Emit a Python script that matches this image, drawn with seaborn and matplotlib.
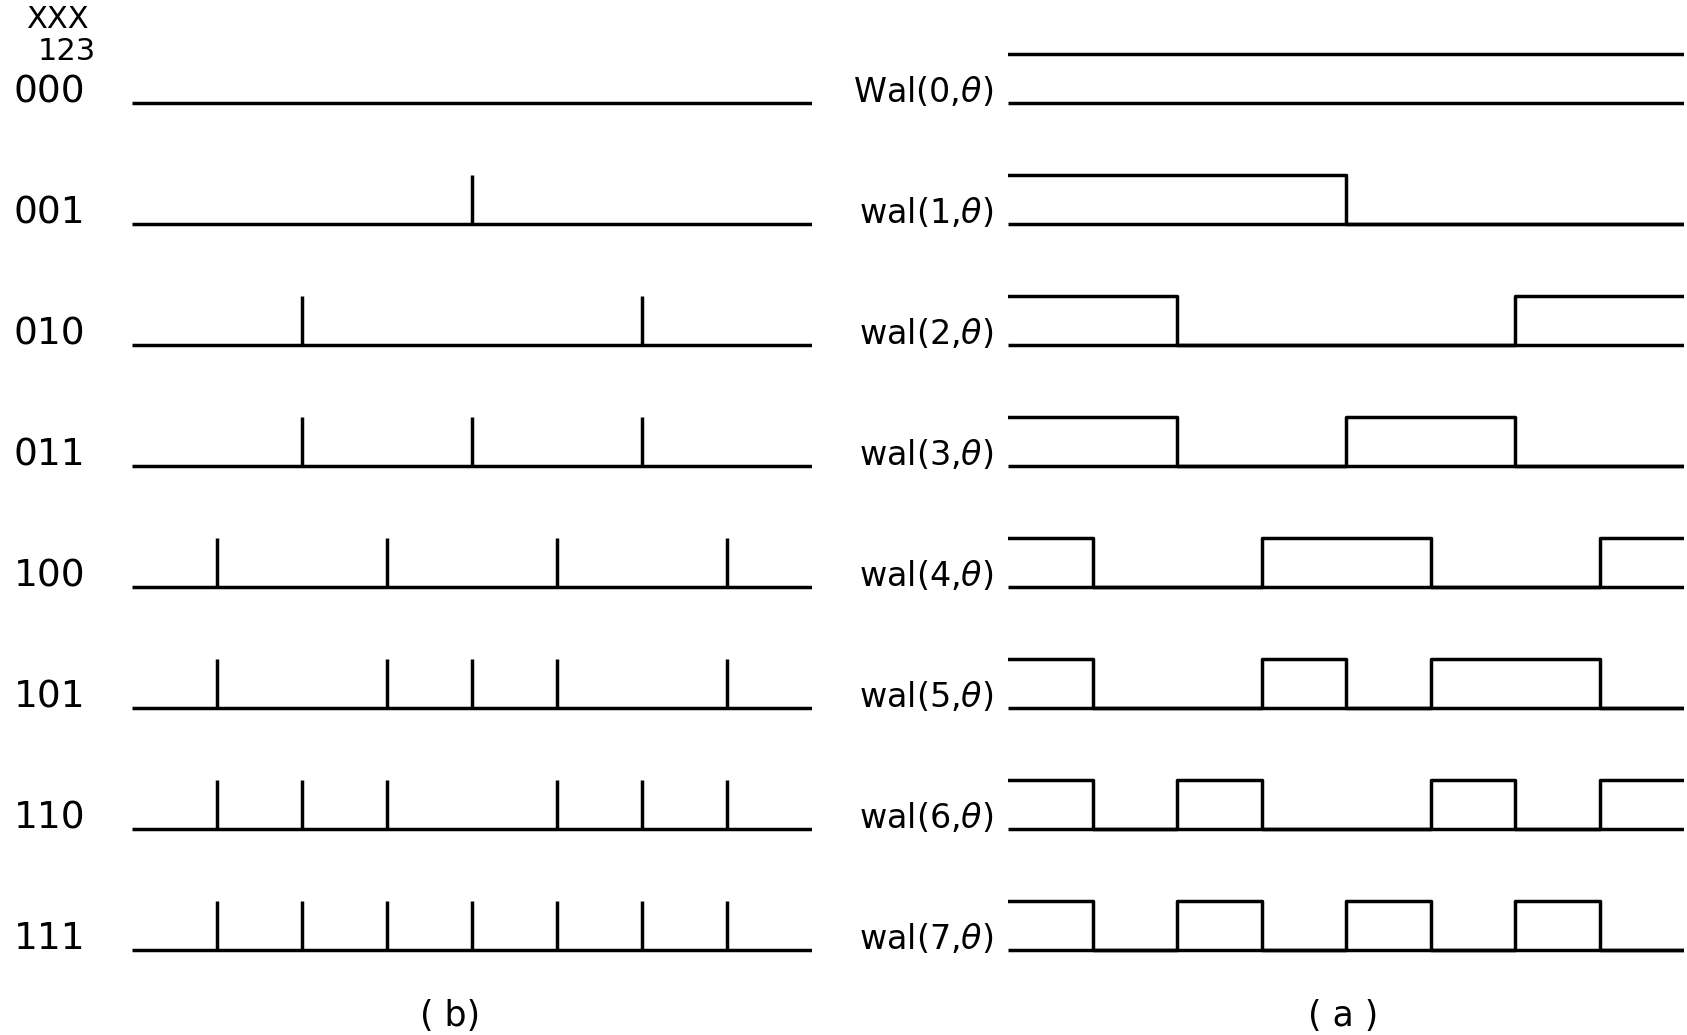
import numpy as np
import pandas as pd
import matplotlib
matplotlib.use("Agg")
import matplotlib.pyplot as plt
import matplotlib.transforms as mtransforms
import seaborn as sns

# binary codes (left panel) and Walsh function names (right panel)
codes = ["000", "001", "010", "011", "100", "101", "110", "111"]
wal_labels = [r"Wal(0,$\theta$)", r"wal(1,$\theta$)", r"wal(2,$\theta$)", r"wal(3,$\theta$)",
              r"wal(4,$\theta$)", r"wal(5,$\theta$)", r"wal(6,$\theta$)", r"wal(7,$\theta$)"]

# spike positions (in eighths of the interval) for each code
spikes = [
    [],
    [4],
    [2, 6],
    [2, 4, 6],
    [1, 3, 5, 7],
    [1, 3, 4, 5, 7],
    [1, 2, 3, 5, 6, 7],
    [1, 2, 3, 4, 5, 6, 7],
]

# Walsh functions, high(1)/low(0) on each eighth of the interval
walsh = [
    [1, 1, 1, 1, 1, 1, 1, 1],
    [1, 1, 1, 1, 0, 0, 0, 0],
    [1, 1, 0, 0, 0, 0, 1, 1],
    [1, 1, 0, 0, 1, 1, 0, 0],
    [1, 0, 0, 1, 1, 0, 0, 1],
    [1, 0, 0, 1, 0, 1, 1, 0],
    [1, 0, 1, 0, 0, 1, 0, 1],
    [1, 0, 1, 0, 1, 0, 1, 0],
]

sns.set_style("white")
plt.rcParams['font.family'] = ['DejaVu Sans']
plt.rcParams['mathtext.fontset'] = 'dejavusans'
plt.rcParams['text.color'] = 'black'

W, H = 1687, 1035
fig = plt.figure(figsize=(W / 100, H / 100), dpi=100)
fig.patch.set_facecolor("white")

row_px = 121.0
top_px = 103.0
h = 0.405  # pulse height in rows
lw = 2.5

axl = fig.add_axes([132 / W, 0, 680 / W, 1])
axr = fig.add_axes([1008 / W, 0, 676 / W, 1])
for ax in (axl, axr):
    ax.set_xlim(0, 8)
    ax.set_ylim((H - top_px) / row_px, -top_px / row_px)
    ax.axis("off")

rows = np.arange(len(codes))

# left panel: baselines and spikes
axl.hlines(rows, 0, 8, color="black", lw=lw)
for i, pos in enumerate(spikes):
    if pos:
        axl.vlines(pos, i, i - h, color="black", lw=lw)

# right panel: baselines and Walsh step waves
axr.hlines(rows, 0, 8, color="black", lw=lw)
recs = []
for i, vals in enumerate(walsh):
    v = list(vals) + [vals[-1]]
    for k, val in enumerate(v):
        recs.append({"row": i, "x": k, "y": i - h * val})
df = pd.DataFrame(recs)
sns.lineplot(data=df, x="x", y="y", units="row", estimator=None, sort=False,
             drawstyle="steps-post", color="black", lw=lw, ax=axr, legend=False)
axr.set_xlim(0, 8)
axr.set_ylim((H - top_px) / row_px, -top_px / row_px)
axr.axis("off")

# labels
tl = mtransforms.blended_transform_factory(fig.transFigure, axl.transData)
for i, c in enumerate(codes):
    fig.text(14 / W, i - 0.09, c, transform=tl, fontsize=27, ha="left", va="center",
             color="black")
    fig.text(993 / W, i - 0.09, wal_labels[i], transform=tl, fontsize=24, ha="right",
             va="center", color="black")

fig.text(57 / W, 1 - 19 / H, "XXX", fontsize=22, ha="center", va="center", color="black")
fig.text(67 / W, 1 - 52 / H, "123", fontsize=22, ha="center", va="center", color="black")
fig.text(450 / W, 1 - 1016 / H, "( b)", fontsize=25, ha="center", va="center", color="black")
fig.text(1343 / W, 1 - 1016 / H, "( a )", fontsize=25, ha="center", va="center", color="black")

fig.savefig("out.png", dpi=100, facecolor="white")
